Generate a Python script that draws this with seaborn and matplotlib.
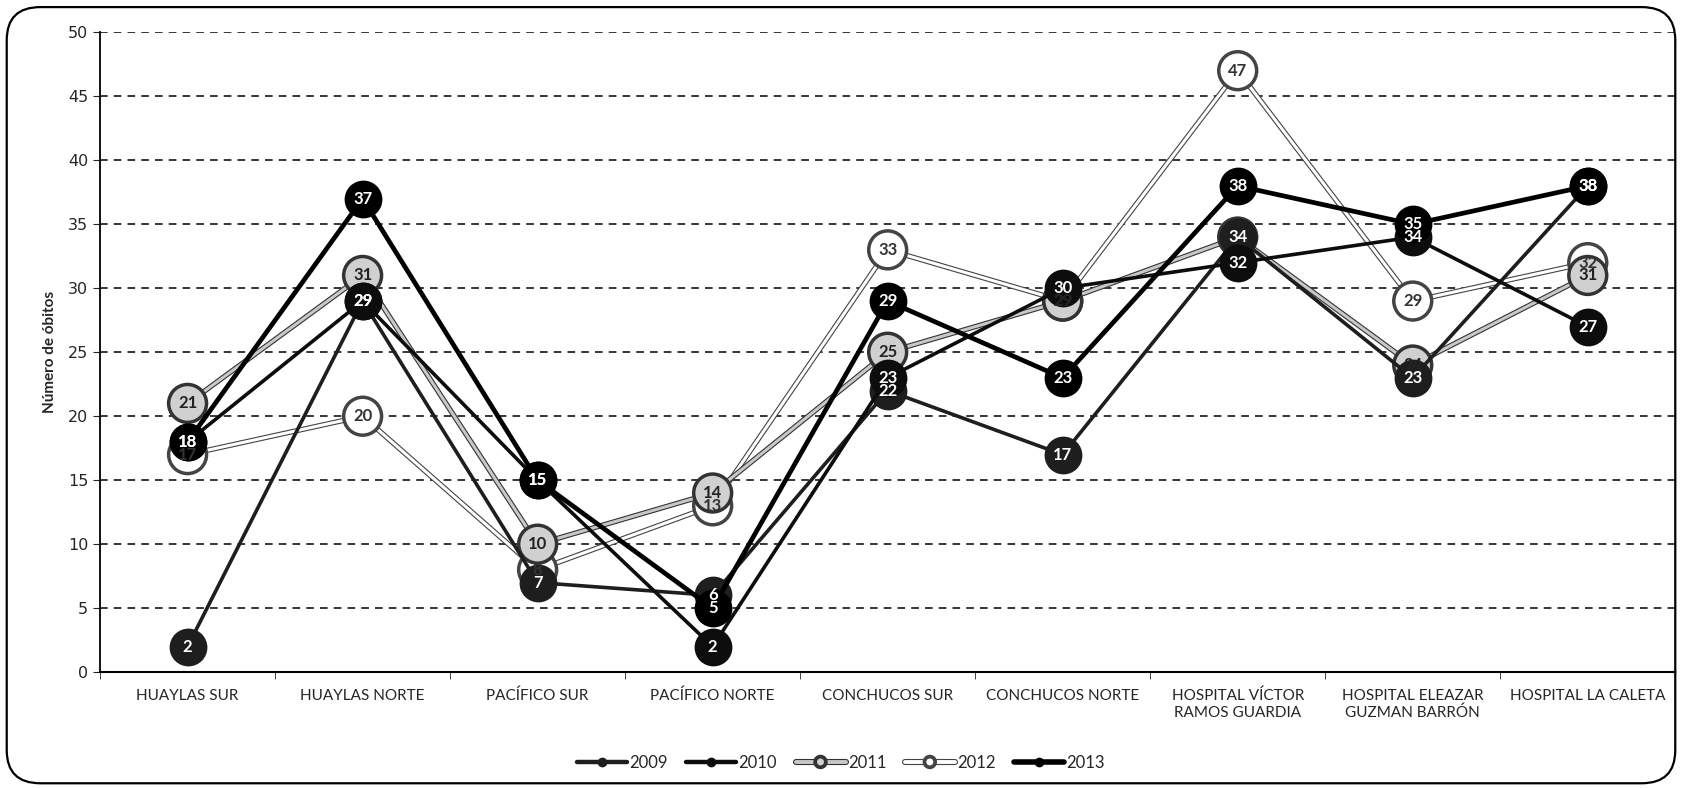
import matplotlib
matplotlib.use("Agg")
import matplotlib.pyplot as plt
import matplotlib.patheffects as pe
from matplotlib.patches import FancyBboxPatch
from matplotlib.lines import Line2D
import seaborn as sns
import pandas as pd

# categorias y valores (número de óbitos por red / hospital)
categorias = ["HUAYLAS SUR", "HUAYLAS NORTE", "PACÍFICO SUR", "PACÍFICO NORTE",
              "CONCHUCOS SUR", "CONCHUCOS NORTE", "HOSPITAL VÍCTOR\nRAMOS GUARDIA",
              "HOSPITAL ELEAZAR\nGUZMAN BARRÓN", "HOSPITAL LA CALETA"]
anios = ["2009", "2010", "2011", "2012", "2013"]
v2009 = [2, 29, 7, 6, 22, 17, 34, 23, 38]
v2010 = [18, 29, 15, 2, 23, 30, 32, 34, 27]
v2011 = [21, 31, 10, 14, 25, 29, 34, 24, 31]
v2012 = [17, 20, 8, 13, 33, 29, 47, 29, 32]
v2013 = [18, 37, 15, 5, 29, 23, 38, 35, 38]
valores = [v2009, v2010, v2011, v2012, v2013]

# estilo de cada serie (escaneo en blanco y negro); z = orden de dibujo
estilos = {
    "2009": dict(color="#1e1e1e", mfc="#1e1e1e", tc="white", lw=2.6, edge=None, z=4),
    "2010": dict(color="#0d0d0d", mfc="#0d0d0d", tc="white", lw=2.6, edge=None, z=5),
    "2011": dict(color="#c8c8c8", mfc="#d0d0d0", tc="#222222", lw=2.2, edge="#333333", z=3),
    "2012": dict(color="white", mfc="white", tc="#333333", lw=2.2, edge="#444444", z=2),
    "2013": dict(color="black", mfc="black", tc="white", lw=3.4, edge=None, z=6),
}

sns.set_style("white")
plt.rcParams["font.family"] = ["Lato", "DejaVu Sans"]

fig = plt.figure(figsize=(16.82, 7.88), dpi=100)
ax = fig.add_axes([0.0595, 0.147, 0.9365, 0.812])

# marco redondeado alrededor de la figura
fig.patches.append(FancyBboxPatch((0.004, 0.006), 0.992, 0.985,
                                  boxstyle="round,pad=0,rounding_size=0.02",
                                  transform=fig.transFigure, fill=False,
                                  ec="black", lw=1.6, mutation_aspect=2.1))

x = list(range(len(categorias)))
for anio, vals in zip(anios, valores):
    st = estilos[anio]
    df = pd.DataFrame({"x": x, "y": vals})
    peff = None
    if st["edge"]:
        peff = [pe.Stroke(linewidth=st["lw"] + 1.6, foreground=st["edge"]), pe.Normal()]
    sns.lineplot(data=df, x="x", y="y", ax=ax, color=st["color"], lw=st["lw"],
                 marker="o", markersize=26, markerfacecolor=st["mfc"],
                 markeredgecolor=st["edge"] or st["mfc"], markeredgewidth=1.2,
                 path_effects=peff, zorder=st["z"], legend=False)
    for xi, yi in zip(x, vals):
        ax.text(xi, yi, str(yi), ha="center", va="center", fontsize=12,
                fontweight="bold", color=st["tc"], zorder=10 + st["z"])

ax.set_xlim(-0.5, len(categorias) - 0.5)
ax.set_ylim(0, 50)
ax.set_yticks(range(0, 51, 5))
ax.tick_params(axis="y", labelsize=11.5, length=5, direction="out", left=True)
for lab in ax.get_yticklabels():
    lab.set_family("DejaVu Sans")
ax.set_xticks(x)
ax.set_xticklabels(categorias, fontsize=11)
ax.tick_params(axis="x", length=0, pad=12)
ax.set_xticks([i + 0.5 for i in range(-1, len(categorias))], minor=True)
ax.tick_params(axis="x", which="minor", length=5, direction="out", bottom=True)
ax.set_xlabel("")
ax.set_ylabel("Número de óbitos", fontsize=11, fontweight="bold", labelpad=8)

for yv in range(5, 51, 5):
    ax.axhline(yv, color="black", lw=1.1, ls=(0, (5, 4)), zorder=1)

for s in ["top", "right"]:
    ax.spines[s].set_visible(False)
ax.spines["left"].set_color("black")
ax.spines["bottom"].set_color("black")
ax.spines["left"].set_linewidth(1.3)
ax.spines["bottom"].set_linewidth(1.5)

handles = []
for anio in anios:
    st = estilos[anio]
    h = Line2D([], [], color=st["color"], lw=st["lw"] + 0.6, marker="o", ms=6,
               mfc=st["mfc"], mec=st["edge"] or st["mfc"])
    if st["edge"]:
        h.set_path_effects([pe.Stroke(linewidth=st["lw"] + 2.2, foreground=st["edge"]), pe.Normal()])
    handles.append(h)
fig.legend(handles, anios, loc="center", bbox_to_anchor=(0.5, 0.032), ncol=5,
           frameon=False, fontsize=12, handlelength=3.0, columnspacing=1.1,
           handletextpad=0.15)

fig.savefig("out.png", dpi=100)
